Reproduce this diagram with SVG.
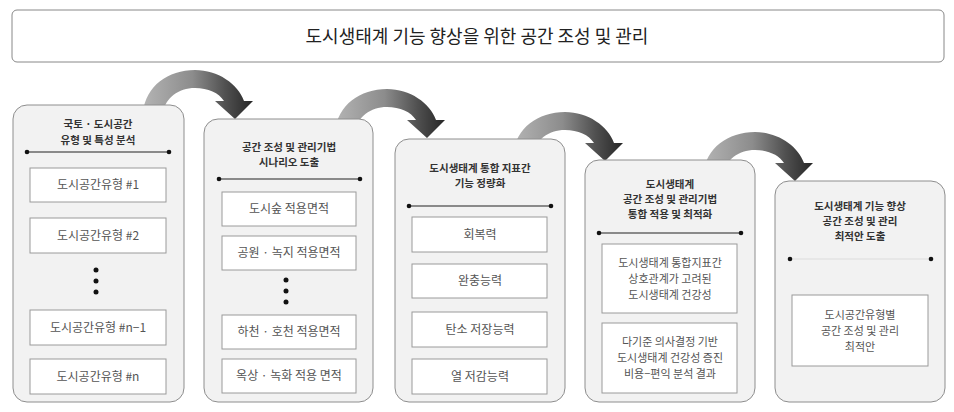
<svg xmlns="http://www.w3.org/2000/svg" width="954" height="412" viewBox="0 0 954 412">
<defs>
<linearGradient id="ag" x1="0" y1="0" x2="1" y2="0">
<stop offset="0" stop-color="#b4b4b4"/>
<stop offset="0.45" stop-color="#8c8c8c"/>
<stop offset="0.75" stop-color="#505050"/>
<stop offset="1" stop-color="#262626"/>
</linearGradient>
<path id="arrow" d="M143,112 C146,86 168,70 195,70 C218,70 238,84 244,101 L253,101 L235,119 L215,101 L224,101 C219,93 208,88 195,88 C178,88 166,98 163,112 Z" fill="url(#ag)"/>
</defs>
<style>
text{font-family:"Noto Sans CJK KR","Noto Sans",sans-serif;text-anchor:middle}
.stage{fill:#f2f2f2;stroke:#8e8e8e;stroke-width:1}
.inner{fill:#ffffff;stroke:#9a9a9a;stroke-width:1}
.hd{font-size:10.5px;font-weight:bold;fill:#333}
.tx{font-size:12px;fill:#555}
.tm{font-size:11px;fill:#555}
.ln{stroke:#222;stroke-width:1.2}
.lnl{stroke:#dcdcdc;stroke-width:1}
.dot{fill:#111}
</style>
<rect width="954" height="412" fill="#ffffff"/>
<g id="title">
<rect x="12" y="10" width="932" height="52" rx="5" fill="#fff" stroke="#888" stroke-width="1"/>
<text x="477" y="43" style="font-size:18px;fill:#222">도시생태계 기능 향상을 위한 공간 조성 및 관리</text>
</g>
<g id="connectors">
<use href="#arrow"/>
<use href="#arrow" transform="translate(192,19)"/>
<use href="#arrow" transform="translate(370,42)"/>
<use href="#arrow" transform="translate(560,62)"/>
</g>
<g id="stage1">
<rect class="stage" x="13" y="105" width="171" height="297" rx="14"/>
<text class="hd" x="98" y="128">국토 · 도시공간</text>
<text class="hd" x="98" y="144">유형 및 특성 분석</text>
<line class="ln" x1="27" y1="152" x2="169" y2="152"/>
<circle class="dot" cx="27" cy="152" r="2.3"/><circle class="dot" cx="169" cy="152" r="2.3"/>
<rect class="inner" x="30" y="168" width="136" height="34"/>
<text class="tx" x="98" y="189">도시공간유형 #1</text>
<rect class="inner" x="30" y="218" width="136" height="35"/>
<text class="tx" x="98" y="240">도시공간유형 #2</text>
<circle class="dot" cx="96" cy="270" r="2.5"/><circle class="dot" cx="96" cy="281" r="2.5"/><circle class="dot" cx="96" cy="292" r="2.5"/>
<rect class="inner" x="30" y="310" width="136" height="35"/>
<text class="tx" x="98" y="332">도시공간유형 #n−1</text>
<rect class="inner" x="30" y="359" width="136" height="35"/>
<text class="tx" x="98" y="381">도시공간유형 #n</text>
</g>
<g id="stage2">
<rect class="stage" x="204" y="119" width="169" height="283" rx="14"/>
<text class="hd" x="289" y="151">공간 조성 및 관리기법</text>
<text class="hd" x="289" y="166">시나리오 도출</text>
<line class="ln" x1="219" y1="179" x2="360" y2="179"/>
<circle class="dot" cx="219" cy="179" r="2.3"/><circle class="dot" cx="360" cy="179" r="2.3"/>
<rect class="inner" x="222" y="192" width="134" height="34"/>
<text class="tx" x="289" y="213">도시숲 적용면적</text>
<rect class="inner" x="222" y="236" width="134" height="34"/>
<text class="tx" x="289" y="257">공원 · 녹지 적용면적</text>
<circle class="dot" cx="286" cy="280" r="2.5"/><circle class="dot" cx="286" cy="291" r="2.5"/><circle class="dot" cx="286" cy="302" r="2.5"/>
<rect class="inner" x="222" y="315" width="134" height="34"/>
<text class="tx" x="289" y="336">하천 · 호천 적용면적</text>
<rect class="inner" x="222" y="359" width="134" height="34"/>
<text class="tx" x="289" y="380">옥상 · 녹화 적용 면적</text>
</g>
<g id="stage3">
<rect class="stage" x="395" y="139" width="170" height="263" rx="14"/>
<text class="hd" x="480" y="172">도시생태계 통합 지표간</text>
<text class="hd" x="480" y="187">기능 정량화</text>
<line class="ln" x1="409" y1="206" x2="551" y2="206"/>
<circle class="dot" cx="409" cy="206" r="2.3"/><circle class="dot" cx="551" cy="206" r="2.3"/>
<rect class="inner" x="412" y="217" width="135" height="35"/>
<text class="tx" x="480" y="239">회복력</text>
<rect class="inner" x="412" y="264" width="135" height="34"/>
<text class="tx" x="480" y="285">완충능력</text>
<rect class="inner" x="412" y="312" width="135" height="35"/>
<text class="tx" x="480" y="334">탄소 저장능력</text>
<rect class="inner" x="412" y="359" width="135" height="35"/>
<text class="tx" x="480" y="381">열 저감능력</text>
</g>
<g id="stage4">
<rect class="stage" x="585" y="160" width="170" height="242" rx="14"/>
<text class="hd" x="670" y="188">도시생태계</text>
<text class="hd" x="670" y="203">공간 조성 및 관리기법</text>
<text class="hd" x="670" y="218">통합 적용 및 최적화</text>
<line class="ln" x1="599" y1="233" x2="741" y2="233"/>
<circle class="dot" cx="599" cy="233" r="2.3"/><circle class="dot" cx="741" cy="233" r="2.3"/>
<rect class="inner" x="602" y="244" width="135" height="69"/>
<text class="tm" x="670" y="266.5">도시생태계 통합지표간</text>
<text class="tm" x="670" y="282.5">상호관계가 고려된</text>
<text class="tm" x="670" y="298.5">도시생태계 건강성</text>
<rect class="inner" x="602" y="323" width="135" height="70"/>
<text class="tm" x="670" y="346">다기준 의사결정 기반</text>
<text class="tm" x="670" y="362">도시생태계 건강성 증진</text>
<text class="tm" x="670" y="378">비용−편익 분석 결과</text>
</g>
<g id="stage5">
<rect class="stage" x="775" y="181" width="170" height="221" rx="14"/>
<text class="hd" x="860" y="210">도시생태계 기능 향상</text>
<text class="hd" x="860" y="225">공간 조성 및 관리</text>
<text class="hd" x="860" y="240">최적안 도출</text>
<line class="lnl" x1="790" y1="259" x2="931" y2="259"/>
<circle class="dot" cx="790" cy="259" r="2.3"/><circle class="dot" cx="931" cy="259" r="2.3"/>
<rect class="inner" x="792" y="295" width="136" height="71"/>
<text class="tm" x="860" y="318.5">도시공간유형별</text>
<text class="tm" x="860" y="334.5">공간 조성 및 관리</text>
<text class="tm" x="860" y="350.5">최적안</text>
</g>
</svg>
